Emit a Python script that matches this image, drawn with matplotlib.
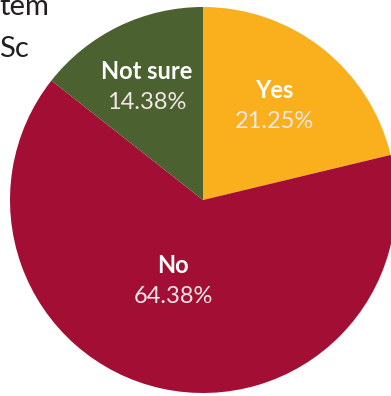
import matplotlib
matplotlib.use('Agg')
import matplotlib.pyplot as plt

# survey answers
answers = ['Yes', 'No', 'Not sure']
shares = [21.25, 64.38, 14.38]
colors = ['#FAAF1C', '#A30F34', '#4B612F']
# fragments of the clipped title at the top left
title_bits = ['tem', 'Sc']

W, H = 391, 396
fig = plt.figure(figsize=(W / 100, H / 100), dpi=100)
ax = fig.add_axes([0, 0, 1, 1])

cx, cy, R = 203, H - 200, 193
ax.pie(shares, colors=colors, startangle=90, counterclock=False,
       center=(cx, cy), radius=R, frame=True, wedgeprops=dict(linewidth=0))
ax.set_xlim(0, W)
ax.set_ylim(0, H)
ax.set_aspect('equal')
ax.axis('off')

font = dict(family=['Lato', 'DejaVu Sans'])
# label x and name baseline (pixels from top-left) per slice
label_pos = [(274, 98), (173, 273), (147, 79)]
for name, val, (x, y) in zip(answers, shares, label_pos):
    ax.text(x, H - y, name, ha='center', va='baseline', color='white',
            fontsize=17, fontweight='bold', **font)
    ax.text(x, H - y - 30, f'{val:.2f}%', ha='center', va='baseline',
            color='#F3E6E6', fontsize=17, **font)

title_font = dict(family=['DejaVu Sans Condensed', 'Lato'])
ax.text(-1, H - 15, title_bits[0], ha='left', va='baseline',
        color='#231F20', fontsize=21, **title_font)
ax.text(-1, H - 57, title_bits[1], ha='left', va='baseline',
        color='#231F20', fontsize=21, **title_font)

fig.savefig('out.png', dpi=100)
